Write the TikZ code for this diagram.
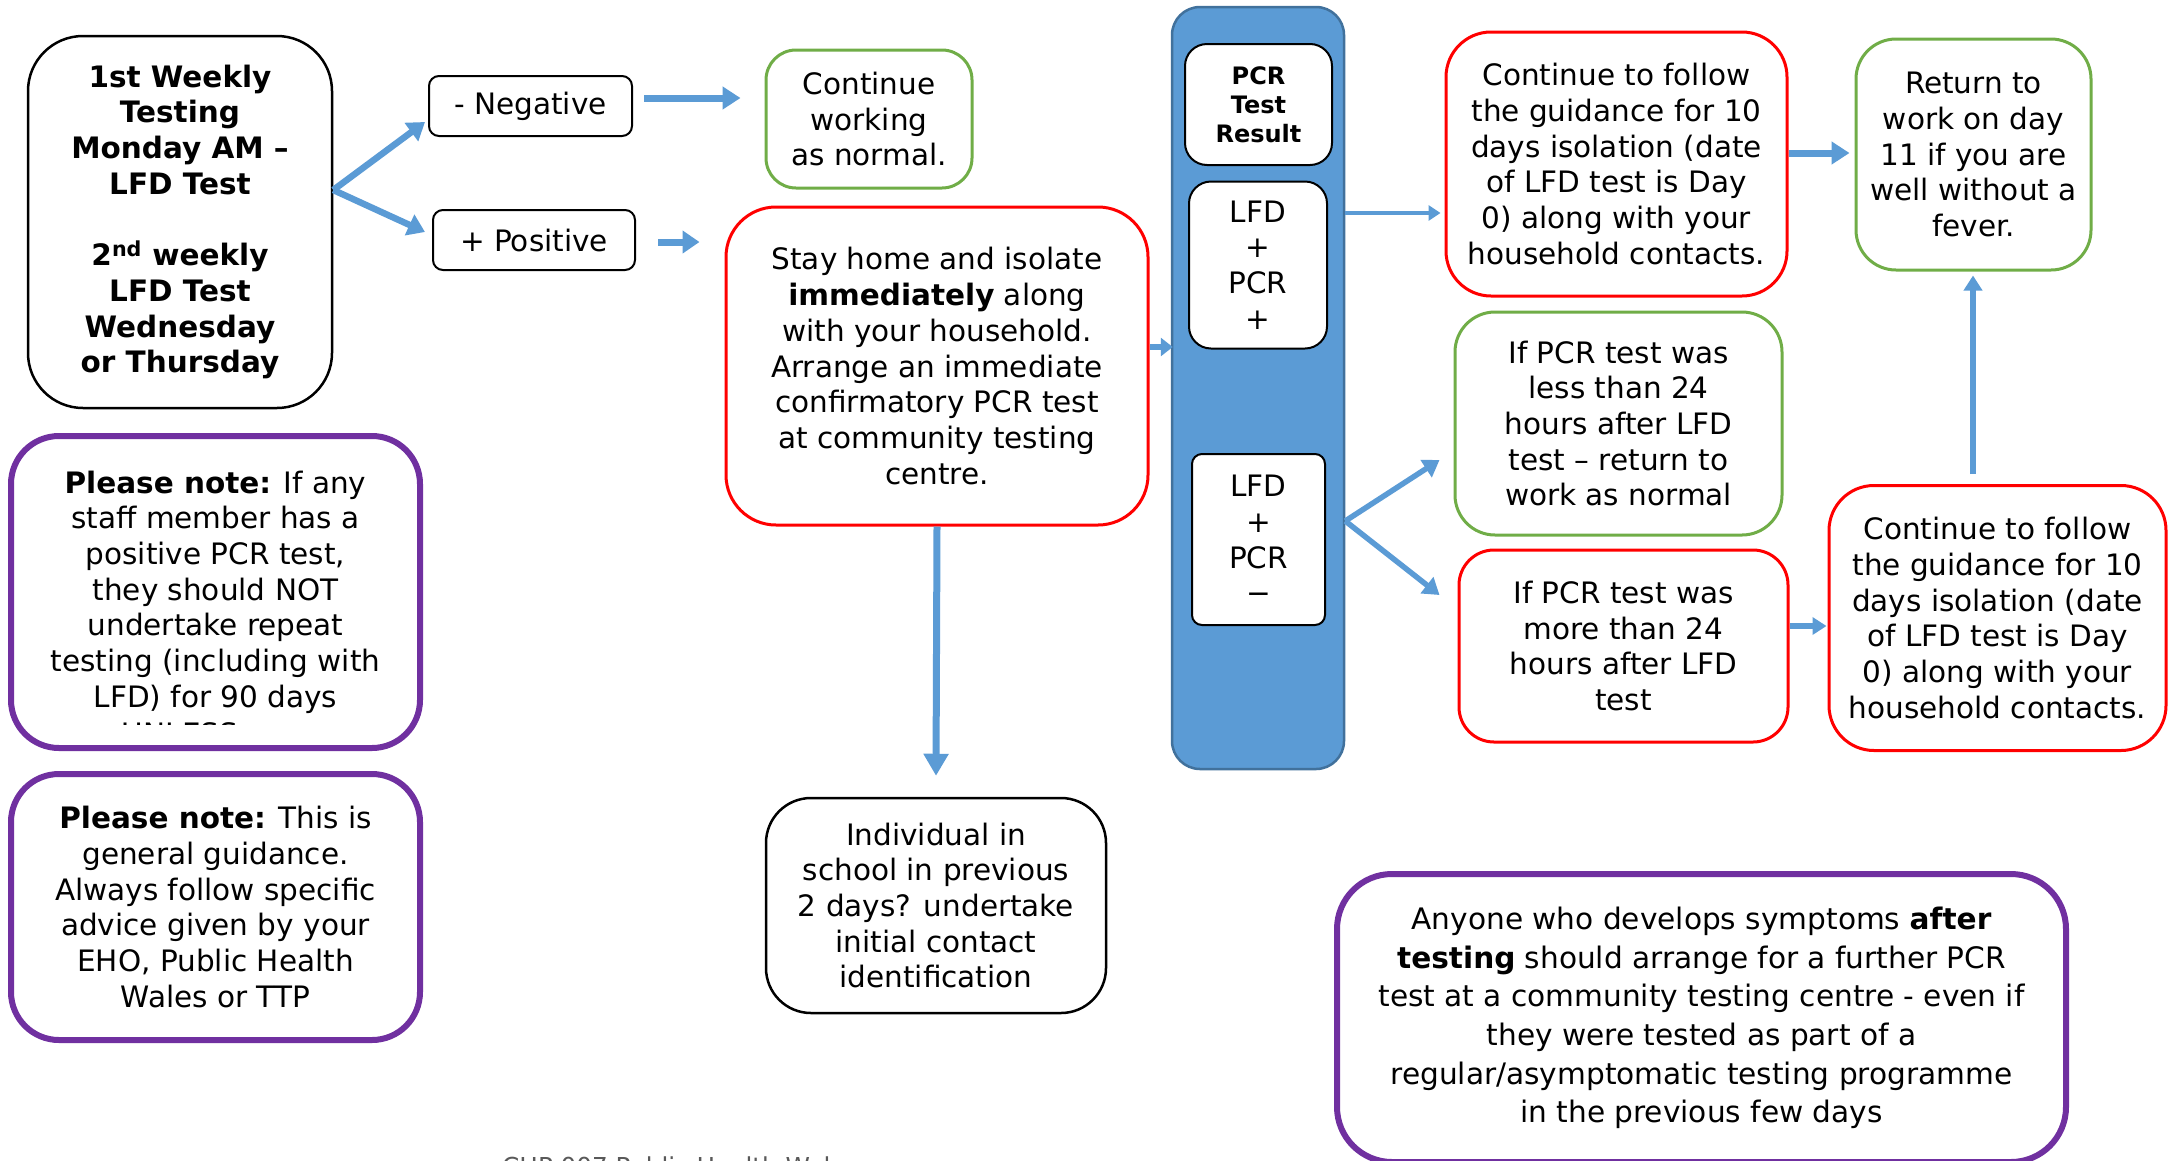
\documentclass[tikz,border=0pt]{standalone}
\usepackage{fontspec}
\setmainfont{DejaVu Sans}
\usetikzlibrary{arrows.meta,calc}
\definecolor{blu}{HTML}{5B9BD5}
\definecolor{bludk}{HTML}{41719C}
\definecolor{grn}{HTML}{70AD47}
\definecolor{rd}{HTML}{FF0000}
\definecolor{prp}{HTML}{7030A0}
\definecolor{capgray}{HTML}{595959}
\begin{document}
\begin{tikzpicture}[x=1pt,y=-1pt,
  txt/.style={font=\fontsize{29.5pt}{35.7pt}\selectfont},
  box/.style={txt,draw,fill=white,align=center,inner sep=0pt,rounded corners=40pt,line width=3pt},
  blkbox/.style={box,draw=black,line width=2.5pt},
  grnbox/.style={box,draw=grn},
  redbox/.style={box,draw=rd},
  prpbox/.style={box,draw=prp,line width=6pt,rounded corners=48pt},
  smallbox/.style={box,draw=black,line width=2pt,rounded corners=10pt},
  inbox/.style={box,draw=black,line width=2pt,rounded corners=22pt},
  arr/.style={draw=blu,line width=#1},
  tip/.style args={#1/#2}{-{Triangle[length=#1pt,width=#2pt]}}
]
\useasboundingbox (0,0) rectangle (2168,1160);
\clip (0,0) rectangle (2168,1160);

% left column
\node[blkbox,rounded corners=55pt,minimum width=304pt,minimum height=372pt,
  font=\fontsize{29.5pt}{35.7pt}\selectfont\bfseries] (A) at (180,222)
  {1st Weekly\\Testing\\Monday AM –\\LFD Test\\[35.7pt]2\textsuperscript{nd} weekly\\LFD Test\\Wednesday\\or Thursday};

\node[prpbox,minimum width=409pt,minimum height=312pt] (note1) at (215.5,592)
  {\textbf{Please note:} If any\\staff member has a\\positive PCR test,\\they should NOT\\undertake repeat\\testing (including with\\LFD) for 90 days};
\begin{scope}
  \clip (20,600) rectangle (410,724);
  \node[txt,anchor=base,inner sep=0pt] (unless) at (180,744) {UNLESS};
\end{scope}

\node[prpbox,minimum width=409pt,minimum height=266pt] (note2) at (215.5,907)
  {\textbf{Please note:} This is\\general guidance.\\Always follow specific\\advice given by your\\EHO, Public Health\\Wales or TTP};

% negative / positive
\node[smallbox,minimum width=203pt,minimum height=60pt] (neg) at (530.5,106) {- Negative};
\node[smallbox,minimum width=202pt,minimum height=60pt] (pos) at (534,240) {+ Positive};

\node[grnbox,rounded corners=30pt,minimum width=206pt,minimum height=138pt] (cont) at (869,119)
  {Continue\\working\\as normal.};

\node[redbox,rounded corners=50pt,minimum width=422pt,minimum height=318pt] (stay) at (937,366)
  {Stay home and isolate\\\textbf{immediately} along\\with your household.\\Arrange an immediate\\confirmatory PCR test\\at community testing\\centre.};

\node[blkbox,rounded corners=45pt,minimum width=340pt,minimum height=215pt] (indiv) at (936,905.5)
  {Individual in\\school in previous\\2 days? undertake\\initial contact\\identification};

% PCR column
\node[draw=bludk,fill=blu,line width=2.5pt,rounded corners=28pt,minimum width=172pt,minimum height=762pt,inner sep=0pt] (col) at (1258,388) {};
\node[inbox,minimum width=147pt,minimum height=121pt,
  font=\fontsize{24pt}{29pt}\selectfont\bfseries] (pcr) at (1258.5,104.5) {PCR\\Test\\Result};
\node[inbox,minimum width=138pt,minimum height=167pt] (lpp) at (1258,265) {LFD\\+\\PCR\\+};
\node[inbox,rounded corners=10pt,minimum width=133pt,minimum height=171pt] (lpm) at (1258.5,539.5) {LFD\\+\\PCR\\−};

% right side
\node[redbox,rounded corners=45pt,minimum width=341pt,minimum height=264pt] (cf1) at (1616.5,164)
  {Continue to follow\\the guidance for 10\\days isolation (date\\of LFD test is Day\\0) along with your\\household contacts.};
\node[grnbox,rounded corners=40pt,minimum width=235pt,minimum height=231pt] (ret) at (1973.5,154.5)
  {Return to\\work on day\\11 if you are\\well without a\\fever.};
\node[grnbox,rounded corners=40pt,minimum width=327pt,minimum height=223pt] (less) at (1618.5,423.5)
  {If PCR test was\\less than 24\\hours after LFD\\test – return to\\work as normal};
\node[redbox,rounded corners=35pt,minimum width=329pt,minimum height=192pt] (more) at (1623.5,646)
  {If PCR test was\\more than 24\\hours after LFD\\test};
\node[redbox,rounded corners=45pt,minimum width=337pt,minimum height=265pt] (cf2) at (1997.5,618)
  {Continue to follow\\the guidance for 10\\days isolation (date\\of LFD test is Day\\0) along with your\\household contacts.};

\node[prpbox,rounded corners=55pt,minimum width=729pt,minimum height=288pt,
  font=\fontsize{29.6pt}{38.7pt}\selectfont] (note3) at (1701.5,1018)
  {Anyone who develops symptoms \textbf{after}\\\textbf{testing} should arrange for a further PCR\\test at a community testing centre - even if\\they were tested as part of a\\regular/asymptomatic testing programme\\in the previous few days};

\node[anchor=base west,inner sep=0pt,text=capgray,font=\fontsize{24.7pt}{30pt}\selectfont] (cap) at (502,1175)
  {CHP 007 Public Health Wales};

% connectors
\coordinate (forkA) at ($(A.east)+(0,-32)$);
\draw[arr=6.5pt,tip=17/22] (forkA) -- ($(neg.west)+(-3,16)$);
\draw[arr=6.5pt,tip=17/22] (forkA) -- ($(pos.west)+(-7,-8)$);
\draw[arr=7pt,tip=18/22] ($(neg.east)+(11,-8)$) -- ($(cont.west)+(-24,-21)$);
\draw[arr=7pt,tip=17/22] ($(pos.east)+(22,2)$) -- ($(stay.west)+(-25,-124)$);
\draw[arr=6pt,tip=12/18] ($(stay.east)+(0,-19)$) -- ($(col.west)+(2,-41)$);
\draw[arr=7pt,tip=22/24] (stay.south) -- ($(indiv.north)+(0,-21)$);
\draw[arr=4.5pt,tip=12/15] ($(col.east)+(0,-175)$) -- ($(cf1.west)+(-4,49)$);
\draw[arr=7pt,tip=18/22] ($(cf1.east)+(0,-11)$) -- ($(ret.west)+(-5,-1.5)$);
\coordinate (forkB) at ($(col.east)+(0,133)$);
\draw[arr=5.5pt,tip=16/20] (forkB) -- ($(less.west)+(-14,36.5)$);
\draw[arr=5.5pt,tip=16/20] (forkB) -- ($(more.west)+(-18,-51)$);
\draw[arr=5.5pt,tip=14/17] ($(more.east)+(0,-20)$) -- ($(cf2.west)+(-1,8)$);
\draw[arr=6pt,tip=15/18] ($(cf2.north)+(-24.5,-10)$) -- ($(ret.south)+(-0.5,4)$);
\end{tikzpicture}
\end{document}
